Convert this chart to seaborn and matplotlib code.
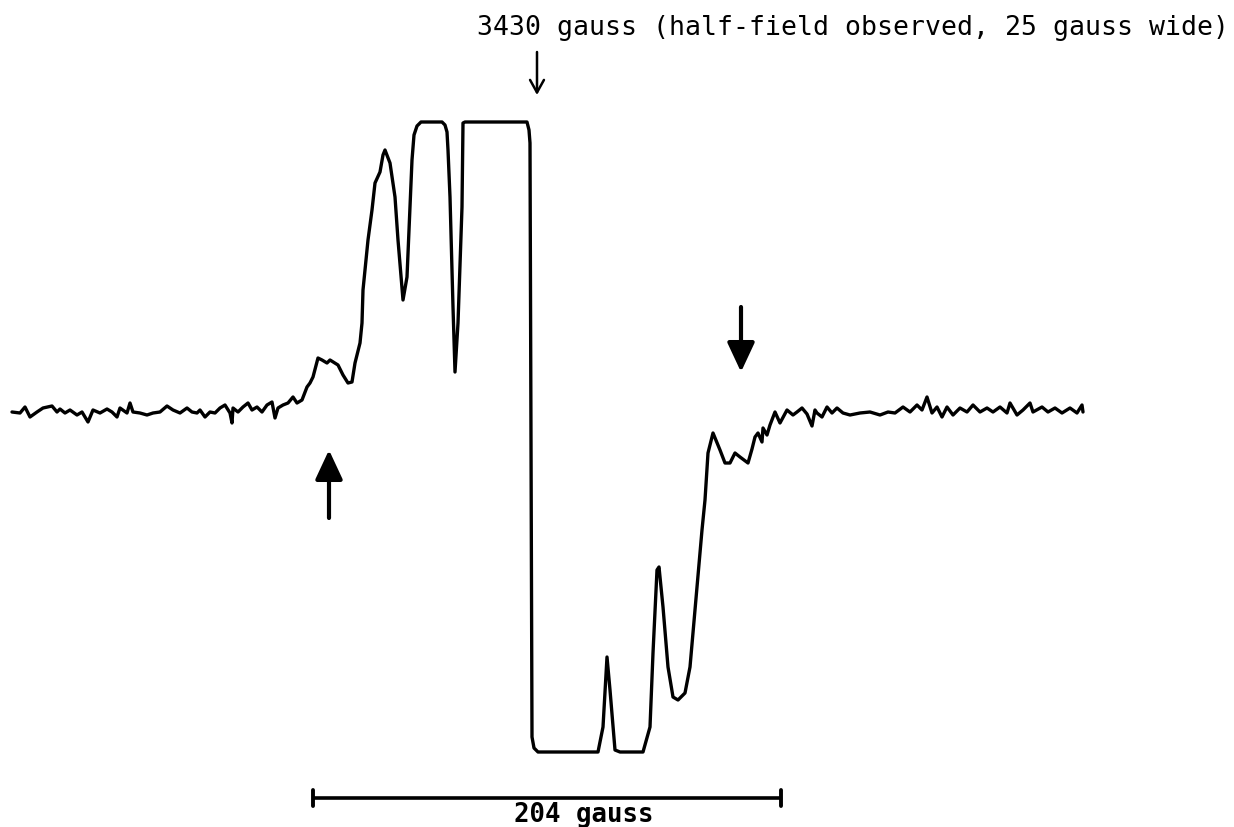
import numpy as np
import pandas as pd
import matplotlib
matplotlib.use("Agg")
import matplotlib.pyplot as plt
import seaborn as sns

# ---- data (scan position px, pen position px) ----
scan_pos = [12, 20, 25, 30, 37, 43, 52, 57, 60, 65, 70, 77, 82, 88, 93, 100, 107, 112, 117, 120,
            127, 130, 133, 140, 147, 153, 160, 167, 173, 180, 187, 192, 197, 200, 205, 210, 215, 220,
            225, 230, 232, 233, 238, 243, 248, 252, 257, 262, 267, 272, 275, 278, 283, 288, 293, 297,
            302, 307, 310, 313, 318, 322, 327, 330, 338, 343, 348, 352, 355, 360, 362, 363, 368, 372,
            375, 380, 383, 385, 390, 395, 398, 403, 407, 410, 412, 414, 417, 421, 442, 445, 447, 448,
            450, 453, 455, 458, 462, 463, 465, 527, 529, 530, 531, 532, 534, 538, 598, 603, 607, 610,
            615, 620, 643, 650, 653, 657, 659, 663, 668, 673, 678, 685, 690, 693, 698, 702, 705, 708,
            713, 720, 725, 730, 735, 740, 748, 752, 755, 758, 762, 763, 767, 770, 775, 780, 787, 793,
            797, 802, 807, 812, 815, 817, 822, 827, 832, 837, 843, 850, 860, 870, 880, 888, 895, 903,
            910, 917, 922, 927, 932, 937, 942, 947, 953, 960, 967, 973, 980, 987, 993, 1000, 1007,
            1010, 1017, 1023, 1030, 1033, 1042, 1048, 1055, 1062, 1070, 1077, 1082, 1083]
pen_pos = [412, 413, 407, 417, 412, 408, 406, 412, 409, 413, 410, 415, 412, 422, 410, 413, 409, 412,
           417, 408, 413, 403, 412, 413, 415, 413, 412, 406, 410, 413, 408, 412, 413, 410, 417, 412,
           413, 408, 405, 413, 423, 408, 412, 407, 403, 410, 407, 412, 405, 402, 418, 408, 405, 403,
           397, 403, 400, 387, 383, 377, 358, 360, 363, 360, 365, 375, 383, 382, 363, 343, 323, 290,
           240, 210, 183, 172, 155, 150, 163, 197, 240, 300, 277, 207, 160, 135, 126, 122, 122, 125,
           132, 150, 197, 307, 372, 323, 207, 123, 122, 122, 130, 143, 447, 737, 748, 752, 752, 727,
           657, 690, 750, 752, 752, 727, 653, 570, 567, 607, 667, 697, 700, 693, 667, 633, 577, 530,
           500, 453, 433, 450, 463, 463, 453, 457, 463, 449, 437, 433, 442, 428, 435, 425, 412, 423,
           410, 415, 412, 408, 414, 426, 410, 413, 417, 407, 413, 408, 413, 415, 413, 412, 415, 412,
           413, 407, 412, 405, 410, 397, 413, 407, 417, 407, 415, 408, 412, 405, 412, 408, 412, 407,
           413, 403, 415, 410, 403, 412, 407, 412, 408, 413, 408, 413, 405, 412]

CENTER_FIELD = 3430          # gauss, marked by the top arrow
CENTER_POS = 537             # scan position of 3430 gauss
SCALE_SPAN = 204             # gauss, scale bar
SCALE_START_POS, SCALE_END_POS = 313, 781
BASELINE_POS = 410

px_per_gauss = (SCALE_END_POS - SCALE_START_POS) / SCALE_SPAN


def to_field(p):
    return CENTER_FIELD + (np.asarray(p, dtype=float) - CENTER_POS) / px_per_gauss


def to_signal(p):
    return BASELINE_POS - np.asarray(p, dtype=float)


df = pd.DataFrame({"field": to_field(scan_pos), "signal": to_signal(pen_pos)})

sns.set_style("white")
fig = plt.figure(figsize=(12.34, 8.27), dpi=100)
ax = fig.add_axes([0, 0, 1, 1])

sns.lineplot(data=df, x="field", y="signal", sort=False, estimator=None,
             color="black", linewidth=2.4, solid_joinstyle="round", ax=ax)

ax.set_xlim(to_field(0), to_field(1234))
ax.set_ylim(to_signal(827), to_signal(0))
ax.axis("off")

mono = ["DejaVu Sans Mono", "Liberation Mono"]

# top label and thin arrow
ax.text(to_field(477), to_signal(35), "3430 gauss (half-field observed, 25 gauss wide)",
        ha="left", va="baseline", fontsize=19.1, family=mono, color="black")
ax.annotate("", xy=(CENTER_FIELD, to_signal(95)), xytext=(CENTER_FIELD, to_signal(52)),
            arrowprops=dict(arrowstyle="->,head_length=0.45,head_width=0.25", mutation_scale=20,
                            lw=1.8, color="black", shrinkA=0, shrinkB=0))

# bold arrows marking the half-field features
ax.annotate("", xy=(to_field(329), to_signal(450)), xytext=(to_field(329), to_signal(518)),
            arrowprops=dict(arrowstyle="-|>,head_length=0.9,head_width=0.42", mutation_scale=20,
                            lw=3, color="black", shrinkA=0, shrinkB=0))
ax.annotate("", xy=(to_field(741), to_signal(372)), xytext=(to_field(741), to_signal(307)),
            arrowprops=dict(arrowstyle="-|>,head_length=0.9,head_width=0.42", mutation_scale=20,
                            lw=3, color="black", shrinkA=0, shrinkB=0))

# scale bar
bar_start = to_field(SCALE_START_POS)
bar_end = bar_start + SCALE_SPAN
bar_y = to_signal(798)
ax.plot([bar_start, bar_end], [bar_y, bar_y], color="black", lw=2.6, solid_capstyle="butt")
for xe in (bar_start, bar_end):
    ax.plot([xe, xe], [bar_y - 8, bar_y + 8], color="black", lw=2.8, solid_capstyle="round")
ax.text(to_field(584), to_signal(822), f"{SCALE_SPAN} gauss", ha="center", va="baseline",
        fontsize=18.5, family=mono, fontweight="bold", color="black")

fig.savefig("out.png", dpi=100)
